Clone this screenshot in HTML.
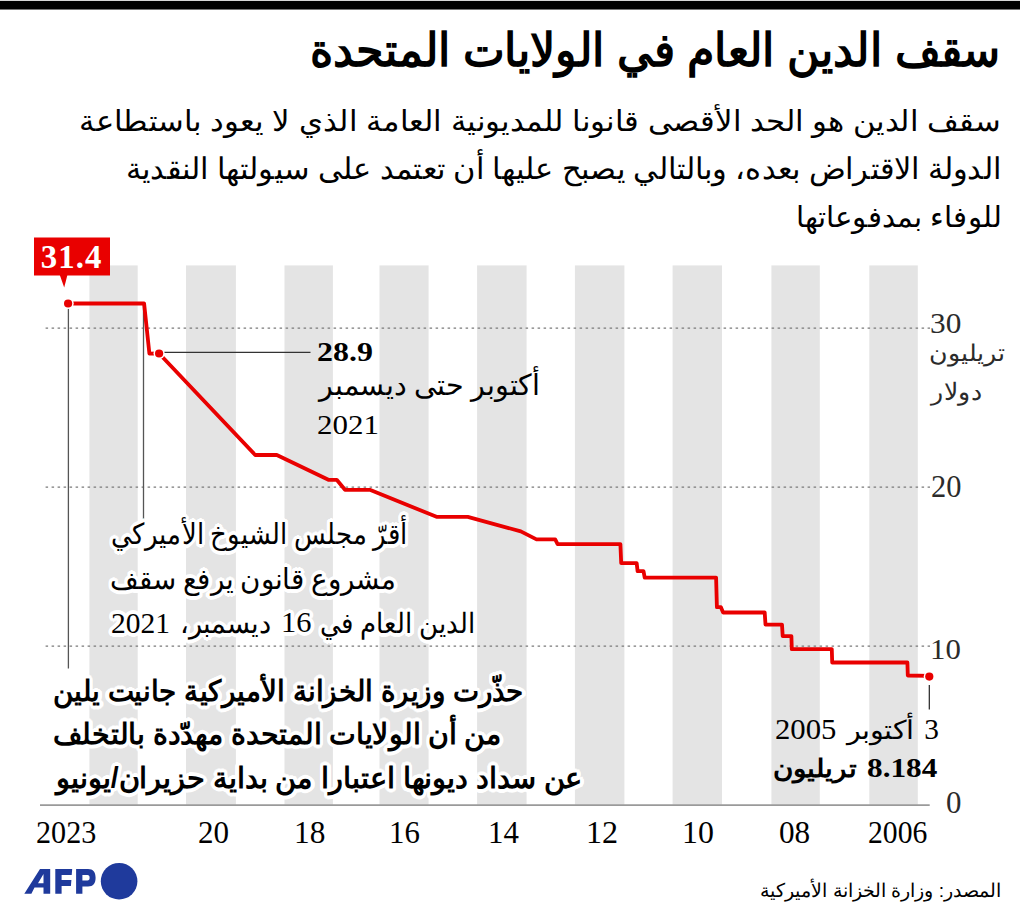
<!DOCTYPE html><html><head><meta charset="utf-8"><title>سقف الدين العام في الولايات المتحدة</title><style>html,body{margin:0;padding:0;background:#fff;}
body{width:1020px;height:920px;position:relative;overflow:hidden;font-family:"Liberation Sans",sans-serif;}
.t{position:absolute;white-space:nowrap;line-height:1;transform-origin:0 0;}
.halo{text-shadow:3.6px 0.0px 0.6px #fff,3.4px 1.1px 0.6px #fff,2.9px 2.1px 0.6px #fff,2.1px 2.9px 0.6px #fff,1.1px 3.4px 0.6px #fff,0.0px 3.6px 0.6px #fff,-1.1px 3.4px 0.6px #fff,-2.1px 2.9px 0.6px #fff,-2.9px 2.1px 0.6px #fff,-3.4px 1.1px 0.6px #fff,-3.6px 0.0px 0.6px #fff,-3.4px -1.1px 0.6px #fff,-2.9px -2.1px 0.6px #fff,-2.1px -2.9px 0.6px #fff,-1.1px -3.4px 0.6px #fff,-0.0px -3.6px 0.6px #fff,1.1px -3.4px 0.6px #fff,2.1px -2.9px 0.6px #fff,2.9px -2.1px 0.6px #fff,3.4px -1.1px 0.6px #fff,2.2px 0.0px 0.6px #fff,1.8px 1.3px 0.6px #fff,0.7px 2.1px 0.6px #fff,-0.7px 2.1px 0.6px #fff,-1.8px 1.3px 0.6px #fff,-2.2px 0.0px 0.6px #fff,-1.8px -1.3px 0.6px #fff,-0.7px -2.1px 0.6px #fff,0.7px -2.1px 0.6px #fff,1.8px -1.3px 0.6px #fff;}
#bar0{position:absolute;left:0;top:0;width:1020px;height:1px;background:#d6d6d6}
#bar{position:absolute;left:0;top:1px;width:1020px;height:8px;background:#000;border-bottom:1px solid #777}
#v314{position:absolute;color:#fff;font-family:"Liberation Serif",serif;font-weight:700;white-space:nowrap;line-height:1}
#afp{position:absolute;left:0;top:0}
</style></head><body>
<div id="bar0"></div><div id="bar"></div>
<svg width="1020" height="920" viewBox="0 0 1020 920" style="position:absolute;left:0;top:0">
<rect x="89.4" y="265.4" width="48.3" height="539.4" fill="#e4e4e4"/>
<rect x="186.0" y="265.4" width="49.9" height="539.4" fill="#e4e4e4"/>
<rect x="284.5" y="265.4" width="48.4" height="539.4" fill="#e4e4e4"/>
<rect x="379.5" y="265.4" width="49.1" height="539.4" fill="#e4e4e4"/>
<rect x="477.1" y="265.4" width="49.5" height="539.4" fill="#e4e4e4"/>
<rect x="574.9" y="265.4" width="49.5" height="539.4" fill="#e4e4e4"/>
<rect x="672.6" y="265.4" width="49.4" height="539.4" fill="#e4e4e4"/>
<rect x="771.4" y="265.4" width="48.4" height="539.4" fill="#e4e4e4"/>
<rect x="869.3" y="265.4" width="48.5" height="539.4" fill="#e4e4e4"/>
<line x1="45.6" y1="328.2" x2="930" y2="328.2" stroke="#7a7a7a" stroke-width="1.3" stroke-dasharray="2.5 3.5" stroke-dashoffset="0"/>
<line x1="45.6" y1="487.2" x2="930" y2="487.2" stroke="#7a7a7a" stroke-width="1.3" stroke-dasharray="2.5 3.5" stroke-dashoffset="0"/>
<line x1="45.6" y1="646.2" x2="930" y2="646.2" stroke="#7a7a7a" stroke-width="1.3" stroke-dasharray="2.5 3.5" stroke-dashoffset="0"/>
<line x1="40" y1="805.1" x2="929.7" y2="805.1" stroke="#9a9a9a" stroke-width="1.6"/>
<line x1="68.4" y1="303" x2="68.4" y2="668.6" stroke="#555" stroke-width="1.3"/>
<line x1="143.5" y1="303" x2="143.5" y2="521" stroke="#555" stroke-width="1.3"/>
<line x1="159" y1="352.4" x2="310.5" y2="352.4" stroke="#333" stroke-width="1.2"/>
<line x1="929.3" y1="685" x2="929.3" y2="709.5" stroke="#222" stroke-width="1.2"/>
<path d="M68.1,303.5 L144.1,303.5 L149.4,353.6 L159.1,353.5 L255.2,455.0 L276.8,455.0 L328.4,479.8 L336.7,479.8 L345.0,489.8 L369.8,489.8 L436.5,516.8 L467.8,516.8 L520.8,531.4 L536.5,539.4 L555.2,539.4 L557.6,544.1 L620.4,544.1 L621.2,563.2 L636.7,563.2 L637.6,571.2 L643.5,571.2 L644.7,577.6 L716.1,577.6 L716.9,607.1 L720.8,607.1 L723.1,612.5 L764.7,612.5 L765.5,624.6 L782.0,624.6 L782.7,636.1 L791.4,636.1 L791.8,649.1 L831.8,649.1 L832.2,662.5 L907.4,662.5 L907.8,675.5 L929.3,675.8" fill="none" stroke="#e90000" stroke-width="3.8" stroke-linejoin="round"/>
<circle cx="68.1" cy="303.5" r="5.6" fill="#fff"/><circle cx="68.1" cy="303.5" r="4.1" fill="#e90000"/>
<circle cx="159.1" cy="353.5" r="5.6" fill="#fff"/><circle cx="159.1" cy="353.5" r="4.1" fill="#e90000"/>
<circle cx="929.3" cy="676.6" r="5.6" fill="#fff"/><circle cx="929.3" cy="676.6" r="4.1" fill="#e90000"/>
<rect x="34" y="237.5" width="76" height="38" fill="#e90000"/>
<path d="M59.8,275 L67.4,275 L64.2,287.5 Z" fill="#e90000"/>
<circle cx="119.1" cy="881.2" r="18.3" fill="#1f3a9c"/>
</svg>
<div id="title" class="t" dir="rtl" style="left:309.97px;top:26.50px;font-size:46.05px;font-weight:700;font-family:'Liberation Sans', sans-serif;color:#000;transform:scaleX(0.8137);">سقف الدين العام في الولايات المتحدة</div>
<div id="sub1" class="t" dir="rtl" style="left:79.48px;top:106.00px;font-size:29.47px;font-weight:400;font-family:'Liberation Sans', sans-serif;color:#000;transform:scaleX(1.0612);">سقف الدين هو الحد الأقصى قانونا للمديونية العامة الذي لا يعود باستطاعة</div>
<div id="sub2" class="t" dir="rtl" style="left:125.56px;top:154.30px;font-size:30.00px;font-weight:400;font-family:'Liberation Sans', sans-serif;color:#000;transform:scaleX(1.0198);">الدولة الاقتراض بعده، وبالتالي يصبح عليها أن تعتمد على سيولتها النقدية</div>
<div id="sub3" class="t" dir="rtl" style="left:795.77px;top:203.40px;font-size:29.08px;font-weight:400;font-family:'Liberation Sans', sans-serif;color:#000;transform:scaleX(1.0086);">للوفاء بمدفوعاتها</div>
<div id="a1n" class="t" dir="rtl" style="left:317.45px;top:338.00px;font-size:27.68px;font-weight:700;font-family:'Liberation Serif', serif;color:#000;transform:scaleX(1.1532);">28.9</div>
<div id="a1t" class="t" dir="rtl" style="left:318.78px;top:370.50px;font-size:29.08px;font-weight:400;font-family:'Liberation Serif', serif;color:#000;transform:scaleX(0.9843);">أكتوبر حتى ديسمبر</div>
<div id="a1y" class="t" dir="rtl" style="left:317.09px;top:410.70px;font-size:27.98px;font-weight:400;font-family:'Liberation Serif', serif;color:#000;transform:scaleX(1.1057);">2021</div>
<div id="a2l1" class="t halo" dir="rtl" style="left:110.51px;top:519.80px;font-size:28.82px;font-weight:400;font-family:'Liberation Serif', serif;color:#000;transform:scaleX(0.8936);">أقرّ مجلس الشيوخ الأميركي</div>
<div id="a2l2" class="t halo" dir="rtl" style="left:110.39px;top:564.50px;font-size:28.95px;font-weight:400;font-family:'Liberation Serif', serif;color:#000;transform:scaleX(0.9558);">مشروع قانون يرفع سقف</div>
<div id="a2l3a" class="t halo" dir="rtl" style="left:320.14px;top:609.60px;font-size:28.16px;font-weight:400;font-family:'Liberation Serif', serif;color:#000;transform:scaleX(0.9276);">الدين العام في</div>
<div id="a2l3b" class="t halo" dir="rtl" style="left:281.12px;top:608.40px;font-size:29.61px;font-weight:400;font-family:'Liberation Serif', serif;color:#000;transform:scaleX(1.0269);">16</div>
<div id="a2l3c" class="t halo" dir="rtl" style="left:180.06px;top:609.60px;font-size:28.16px;font-weight:400;font-family:'Liberation Serif', serif;color:#000;transform:scaleX(0.9787);">ديسمبر،</div>
<div id="a2l3d" class="t halo" dir="rtl" style="left:111.38px;top:608.60px;font-size:28.87px;font-weight:400;font-family:'Liberation Serif', serif;color:#000;transform:scaleX(1.0211);">2021</div>
<div id="a3l1" class="t halo" dir="rtl" style="left:53.37px;top:677.00px;font-size:28.74px;font-weight:700;font-family:'Liberation Sans', sans-serif;color:#000;transform:scaleX(0.8143);">حذّرت وزيرة الخزانة الأميركية جانيت يلين</div>
<div id="a3l2" class="t halo" dir="rtl" style="left:53.33px;top:720.00px;font-size:28.74px;font-weight:700;font-family:'Liberation Sans', sans-serif;color:#000;transform:scaleX(0.8355);">من أن الولايات المتحدة مهدّدة بالتخلف</div>
<div id="a3l3" class="t halo" dir="rtl" style="left:55.83px;top:763.50px;font-size:28.74px;font-weight:700;font-family:'Liberation Sans', sans-serif;color:#000;transform:scaleX(0.8302);">عن سداد ديونها اعتبارا من بداية حزيران/يونيو</div>
<div id="a4l1a" class="t" dir="rtl" style="left:924.20px;top:715.30px;font-size:29.32px;font-weight:400;font-family:'Liberation Serif', serif;color:#000;">3</div>
<div id="a4l1b" class="t" dir="rtl" style="left:847.40px;top:717.60px;font-size:26.18px;font-weight:400;font-family:'Liberation Serif', serif;color:#000;transform:scaleX(1.0967);">أكتوبر</div>
<div id="a4l1c" class="t" dir="rtl" style="left:774.92px;top:716.30px;font-size:28.42px;font-weight:400;font-family:'Liberation Serif', serif;color:#000;transform:scaleX(1.0796);">2005</div>
<div id="a4l2a" class="t" dir="rtl" style="left:867.45px;top:755.20px;font-size:27.08px;font-weight:700;font-family:'Liberation Serif', serif;color:#000;transform:scaleX(1.1541);">8.184</div>
<div id="a4l2b" class="t" dir="rtl" style="left:773.38px;top:755.50px;font-size:25.26px;font-weight:700;font-family:'Liberation Serif', serif;color:#000;transform:scaleX(0.9157);">تريليون</div>
<div id="yu1" class="t" dir="rtl" style="left:929.20px;top:341.90px;font-size:23.30px;font-weight:400;font-family:'Liberation Sans', sans-serif;color:#2b2b2b;transform:scaleX(1.0985);">تريليون</div>
<div id="yu2" class="t" dir="rtl" style="left:931.35px;top:379.70px;font-size:24.21px;font-weight:400;font-family:'Liberation Sans', sans-serif;color:#2b2b2b;transform:scaleX(1.0458);">دولار</div>
<div id="src" class="t" dir="rtl" style="left:759.59px;top:881.00px;font-size:19.21px;font-weight:400;font-family:'Liberation Sans', sans-serif;color:#000;transform:scaleX(1.0093);">المصدر: وزارة الخزانة الأميركية</div>
<div id="y30" class="t" dir="rtl" style="left:930.32px;top:308.70px;font-size:29.02px;font-weight:400;font-family:'Liberation Serif', serif;color:#2b2b2b;transform:scaleX(1.0778);">30</div>
<div id="y20" class="t" dir="rtl" style="left:930.50px;top:471.90px;font-size:30.51px;font-weight:400;font-family:'Liberation Serif', serif;color:#2b2b2b;transform:scaleX(0.9966);">20</div>
<div id="y10" class="t" dir="rtl" style="left:930.44px;top:634.40px;font-size:30.21px;font-weight:400;font-family:'Liberation Serif', serif;color:#2b2b2b;transform:scaleX(1.0192);">10</div>
<div id="y0" class="t" dir="rtl" style="left:945.89px;top:788.20px;font-size:30.65px;font-weight:400;font-family:'Liberation Serif', serif;color:#2b2b2b;transform:scaleX(1.0077);">0</div>
<div id="x2023" class="t" dir="rtl" style="left:36.22px;top:817.60px;font-size:30.65px;font-weight:400;font-family:'Liberation Serif', serif;color:#000;transform:scaleX(0.9836);">2023</div>
<div id="x20" class="t" dir="rtl" style="left:197.89px;top:817.60px;font-size:30.65px;font-weight:400;font-family:'Liberation Serif', serif;color:#000;transform:scaleX(1.0138);">20</div>
<div id="x18" class="t" dir="rtl" style="left:294.43px;top:817.60px;font-size:30.65px;font-weight:400;font-family:'Liberation Serif', serif;color:#000;transform:scaleX(1.0222);">18</div>
<div id="x16" class="t" dir="rtl" style="left:389.48px;top:817.60px;font-size:30.65px;font-weight:400;font-family:'Liberation Serif', serif;color:#000;transform:scaleX(1.0071);">16</div>
<div id="x14" class="t" dir="rtl" style="left:487.98px;top:817.60px;font-size:30.65px;font-weight:400;font-family:'Liberation Serif', serif;color:#000;transform:scaleX(1.0071);">14</div>
<div id="x12" class="t" dir="rtl" style="left:585.86px;top:817.60px;font-size:30.65px;font-weight:400;font-family:'Liberation Serif', serif;color:#000;transform:scaleX(1.0481);">12</div>
<div id="x10" class="t" dir="rtl" style="left:681.58px;top:817.60px;font-size:30.65px;font-weight:400;font-family:'Liberation Serif', serif;color:#000;transform:scaleX(1.0407);">10</div>
<div id="x08" class="t" dir="rtl" style="left:779.18px;top:817.60px;font-size:30.65px;font-weight:400;font-family:'Liberation Serif', serif;color:#000;transform:scaleX(1.0172);">08</div>
<div id="x2006" class="t" dir="rtl" style="left:867.53px;top:817.60px;font-size:30.65px;font-weight:400;font-family:'Liberation Serif', serif;color:#000;transform:scaleX(0.9677);">2006</div>
<div id="v314" style="left:40.8px;top:240.5px;font-size:32.8px;letter-spacing:1.1px">31.4</div>
<svg id="afp" width="150" height="920" viewBox="0 0 150 920"><g fill="#1f3a9c" fill-rule="evenodd">
<path d="M24.3,893.8 L40,869.1 L50.2,869.1 L50.2,893.8 L43.5,893.8 L43.5,887.5 L34.5,887.5 L31.4,893.8 Z M38,883.2 L43.5,883.2 L43.5,874 Z"/>
<path d="M55.3,869.1 H72.2 L71.7,875 H61.6 V880 H71.4 L70.9,886 H61.6 V893.8 H55.3 Z"/>
<path d="M76.1,869.1 H88 C93.2,869.1 95.6,872.2 95.6,877.7 C95.6,883.3 93.2,886.4 88,886.4 H82.4 V893.8 H76.1 Z M82.4,875 H87.4 C89,875 89.6,876 89.6,877.7 C89.6,879.5 89,880.5 87.4,880.5 H82.4 Z"/>
</g></svg>
<script>(function(){var a=[["title",849,0.8137],["sub1",868,1.0612],["sub2",858,1.0198],["sub3",204,1.0086],["a1t",224,0.9843],["a2l1",331,0.8936],["a2l2",299,0.9558],["a2l3a",168,0.9276],["a2l3c",93,0.9787],["a3l1",578,0.8143],["a3l2",537,0.8355],["a3l3",634,0.8302],["a4l1b",61,1.0967],["a4l2b",91,0.9157],["yu1",69,1.0985],["yu2",49,1.0458],["src",239,1.0093]];for(var i=0;i<a.length;i++){var e=document.getElementById(a[i][0]);if(!e)continue;var t=e.style.transform;e.style.transform="none";var w=e.getBoundingClientRect().width;e.style.transform=t;if(w>0&&Math.abs(w-a[i][1])>1){e.style.transform="scaleX("+(a[i][2]*a[i][1]/w).toFixed(4)+")";}}})();</script>
</body></html>
